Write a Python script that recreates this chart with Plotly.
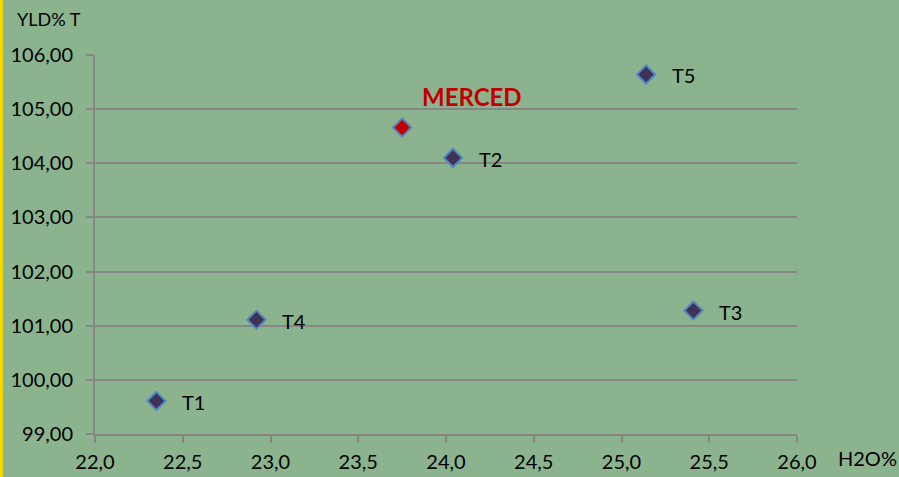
import plotly.graph_objects as go

names = ["T1", "T4", "MERCED", "T2", "T5", "T3"]
h2o = [22.35, 22.92, 23.75, 24.04, 25.14, 25.41]
yld = [99.61, 101.11, 104.66, 104.10, 105.64, 101.28]
fills = ["#3F3256", "#3F3256", "#C00000", "#3F3256", "#3F3256", "#3F3256"]

x_ticks = [22.0, 22.5, 23.0, 23.5, 24.0, 24.5, 25.0, 25.5, 26.0]
y_ticks = [99, 100, 101, 102, 103, 104, 105, 106]

BG = "#8BB48E"
GRID = "#868686"
FONT = "Lato, 'Open Sans', sans-serif"

fig = go.Figure()
fig.add_trace(go.Scatter(
    x=h2o, y=yld, mode="markers",
    marker=dict(symbol="diamond", size=14, color=fills,
                line=dict(color="#4F86C6", width=2)),
    hoverinfo="skip", showlegend=False, cliponaxis=False,
))

annotations = []
for n, xv, yv in zip(names, h2o, yld):
    if n == "MERCED":
        annotations.append(dict(x=xv, y=yv, text="<b>MERCED</b>", showarrow=False,
                                xanchor="center", yanchor="middle", xshift=70, yshift=31,
                                font=dict(family=FONT, size=24, color="#C00000")))
    else:
        annotations.append(dict(x=xv, y=yv, text=n, showarrow=False,
                                xanchor="left", yanchor="middle", xshift=24, yshift=-1,
                                font=dict(family=FONT, size=20, color="#000000")))

annotations.append(dict(xref="paper", yref="paper", x=-80 / 702, y=1 + 36 / 379,
                        text="YLD% T", showarrow=False, xanchor="left", yanchor="middle",
                        font=dict(family=FONT, size=18, color="#000000")))
annotations.append(dict(xref="paper", yref="paper", x=1 + 39 / 702, y=-24 / 379,
                        text="H2O%", showarrow=False, xanchor="left", yanchor="middle",
                        font=dict(family=FONT, size=20, color="#000000")))

fig.update_layout(
    width=899, height=477, autosize=False,
    margin=dict(l=95, r=102, t=55, b=43, autoexpand=False),
    paper_bgcolor=BG, plot_bgcolor=BG,
    separators=",.",
    annotations=annotations,
    font=dict(family=FONT, size=20, color="#000000"),
    shapes=[dict(type="rect", xref="paper", yref="paper",
                 x0=-95 / 702, x1=-92 / 702, y0=-43 / 379, y1=1 + 55 / 379,
                 fillcolor="#F2D600", line=dict(width=0), layer="above")],
    xaxis=dict(range=[22, 26], tickvals=x_ticks, tickformat=".1f", automargin=False,
               showgrid=False, zeroline=False, showline=True, linecolor=GRID, linewidth=2,
               ticks="outside", ticklen=7, tickwidth=2, tickcolor=GRID,
               tickfont=dict(family=FONT, size=20), ticklabelstandoff=2),
    yaxis=dict(range=[99, 106], tickvals=y_ticks, tickformat=".2f", automargin=False,
               showgrid=True, gridcolor=GRID, gridwidth=2, zeroline=False,
               showline=True, linecolor=GRID, linewidth=2,
               ticks="outside", ticklen=7, tickwidth=2, tickcolor=GRID,
               tickfont=dict(family=FONT, size=20), ticklabelstandoff=9),
)

fig.write_html("out.html",
               config={"responsive": False, "displayModeBar": False},
               post_script="document.body.style.margin='0';document.body.style.overflow='hidden';")
